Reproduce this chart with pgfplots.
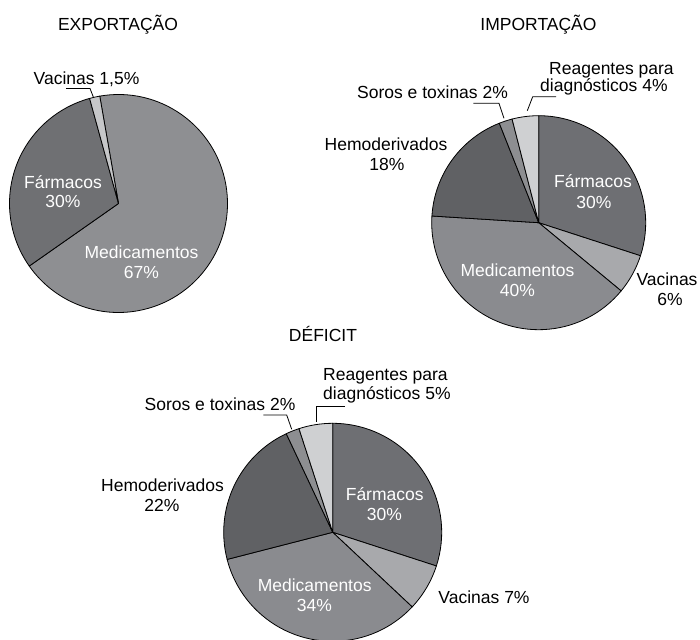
\documentclass[border=0pt]{standalone}
\usepackage{pgfplots}
\usepackage{pgfplotstable}
\pgfplotsset{compat=1.18}
\usepackage{fontspec}
\setmainfont{Liberation Sans}

\definecolor{farm}{HTML}{6E6F73}
\definecolor{hemo}{HTML}{606164}
\definecolor{med}{HTML}{8A8B8F}
\definecolor{vac}{HTML}{A8A9AC}
\definecolor{soros}{HTML}{8D8E91}
\definecolor{reag}{HTML}{CFD0D2}
\definecolor{farmA}{HTML}{6F7073}
\definecolor{medA}{HTML}{8E8F92}
\definecolor{vacA}{HTML}{C6C7C9}

% clockwise order, starting angle given per pie
\pgfplotstableread{
name value color
Medicamentos 67 medA
Farmacos 30 farmA
Vacinas 1.5 vacA
}\tabexp
\pgfplotstableread{
name value color
Farmacos 30 farm
Vacinas 6 vac
Medicamentos 40 med
Hemoderivados 18 hemo
Soros 2 soros
Reagentes 4 reag
}\tabimp
\pgfplotstableread{
name value color
Farmacos 30 farm
Vacinas 7 vac
Medicamentos 34 med
Hemoderivados 22 hemo
Soros 2 soros
Reagentes 5 reag
}\tabdef

\newcommand{\drawpie}[5]{%
  \pgfplotstablegetrowsof{#5}%
  \pgfmathtruncatemacro\nrows{\pgfplotsretval-1}%
  \def\tot{0}%
  \pgfplotsforeachungrouped \i in {0,...,\nrows}{%
    \pgfplotstablegetelem{\i}{value}\of{#5}%
    \pgfmathsetmacro\tot{\tot+\pgfplotsretval}%
  }%
  \def\ang{#4}%
  \pgfplotsforeachungrouped \i in {0,...,\nrows}{%
    \pgfplotstablegetelem{\i}{value}\of{#5}\let\vv\pgfplotsretval
    \pgfplotstablegetelem{\i}{color}\of{#5}\let\cc\pgfplotsretval
    \pgfmathsetmacro\endang{\ang-\vv/\tot*360}%
    \edef\temp{\noexpand\filldraw[fill=\cc, draw=black, line width=0.8pt, line join=round]
      (axis cs:#1,#2) -- ++(\ang:#3pt) arc[start angle=\ang, end angle=\endang, radius=#3pt] -- cycle;}%
    \temp
    \let\ang\endang
  }%
}

\tikzset{lbl/.style={anchor=base, inner sep=0pt, font=\fontsize{17.5}{20}\selectfont, text=black},
         wlbl/.style={lbl, text=white}}

\begin{document}
\begin{tikzpicture}
\begin{axis}[
  width=700pt, height=639pt, scale only axis,
  xmin=0, xmax=700, ymin=0, ymax=639, y dir=reverse,
  hide axis, clip=true,
]
\drawpie{118.5}{203.5}{109}{99.9}{\tabexp}
\drawpie{538.7}{222.7}{107}{90}{\tabimp}
\drawpie{332.7}{532.3}{109}{90}{\tabdef}

% leader lines
\addplot[black, line width=0.8pt, no markers] coordinates {(66,88.5) (90,88.5) (93.5,97.5)};
\addplot[black, line width=0.8pt, no markers] coordinates {(556,96.7) (532.7,96.7) (527.3,110.7)};
\addplot[black, line width=0.8pt, no markers] coordinates {(473.3,103.3) (499,103.3) (504,118.3)};
\addplot[black, line width=0.8pt, no markers] coordinates {(345,406) (316.7,406) (316.7,421.7)};
\addplot[black, line width=0.8pt, no markers] coordinates {(263.3,415) (286.7,415) (291.7,429.3)};

% titles
\node[lbl] at (axis cs:118,31) {EXPORTAÇÃO};
\node[lbl] at (axis cs:538.5,31) {IMPORTAÇÃO};
\node[lbl] at (axis cs:323,341) {DÉFICIT};

% pie 1
\node[lbl] at (axis cs:86.5,85) {Vacinas 1,5\%};
\node[wlbl] at (axis cs:63,188) {Fármacos};
\node[wlbl] at (axis cs:63,207.5) {30\%};
\node[wlbl] at (axis cs:141.5,258) {Medicamentos};
\node[wlbl] at (axis cs:141.5,278) {67\%};

% pie 2
\node[lbl, anchor=base west] at (axis cs:549,75) {Reagentes para};
\node[lbl, anchor=base west] at (axis cs:540,92) {diagnósticos 4\%};
\node[lbl] at (axis cs:432.5,98.3) {Soros e toxinas 2\%};
\node[lbl] at (axis cs:386,150) {Hemoderivados};
\node[lbl] at (axis cs:387,170.7) {18\%};
\node[wlbl] at (axis cs:593,187.3) {Fármacos};
\node[wlbl] at (axis cs:594,208) {30\%};
\node[wlbl] at (axis cs:517.5,276.7) {Medicamentos};
\node[wlbl] at (axis cs:517.5,296) {40\%};
\node[lbl] at (axis cs:667,285) {Vacinas};
\node[lbl] at (axis cs:670,305) {6\%};

% pie 3
\node[lbl, anchor=base west] at (axis cs:323,380) {Reagentes para};
\node[lbl, anchor=base west] at (axis cs:323,399.3) {diagnósticos 5\%};
\node[lbl] at (axis cs:220,410) {Soros e toxinas 2\%};
\node[lbl] at (axis cs:162.5,491.7) {Hemoderivados};
\node[lbl] at (axis cs:162,511.7) {22\%};
\node[wlbl] at (axis cs:384.7,500) {Fármacos};
\node[wlbl] at (axis cs:384.5,520.7) {30\%};
\node[wlbl] at (axis cs:314.7,591.7) {Medicamentos};
\node[wlbl] at (axis cs:314.5,611.7) {34\%};
\node[lbl] at (axis cs:484,603.3) {Vacinas 7\%};
\end{axis}
\pgfresetboundingbox
\path[use as bounding box] (current axis.south west) rectangle (current axis.north east);
\end{tikzpicture}
\end{document}
